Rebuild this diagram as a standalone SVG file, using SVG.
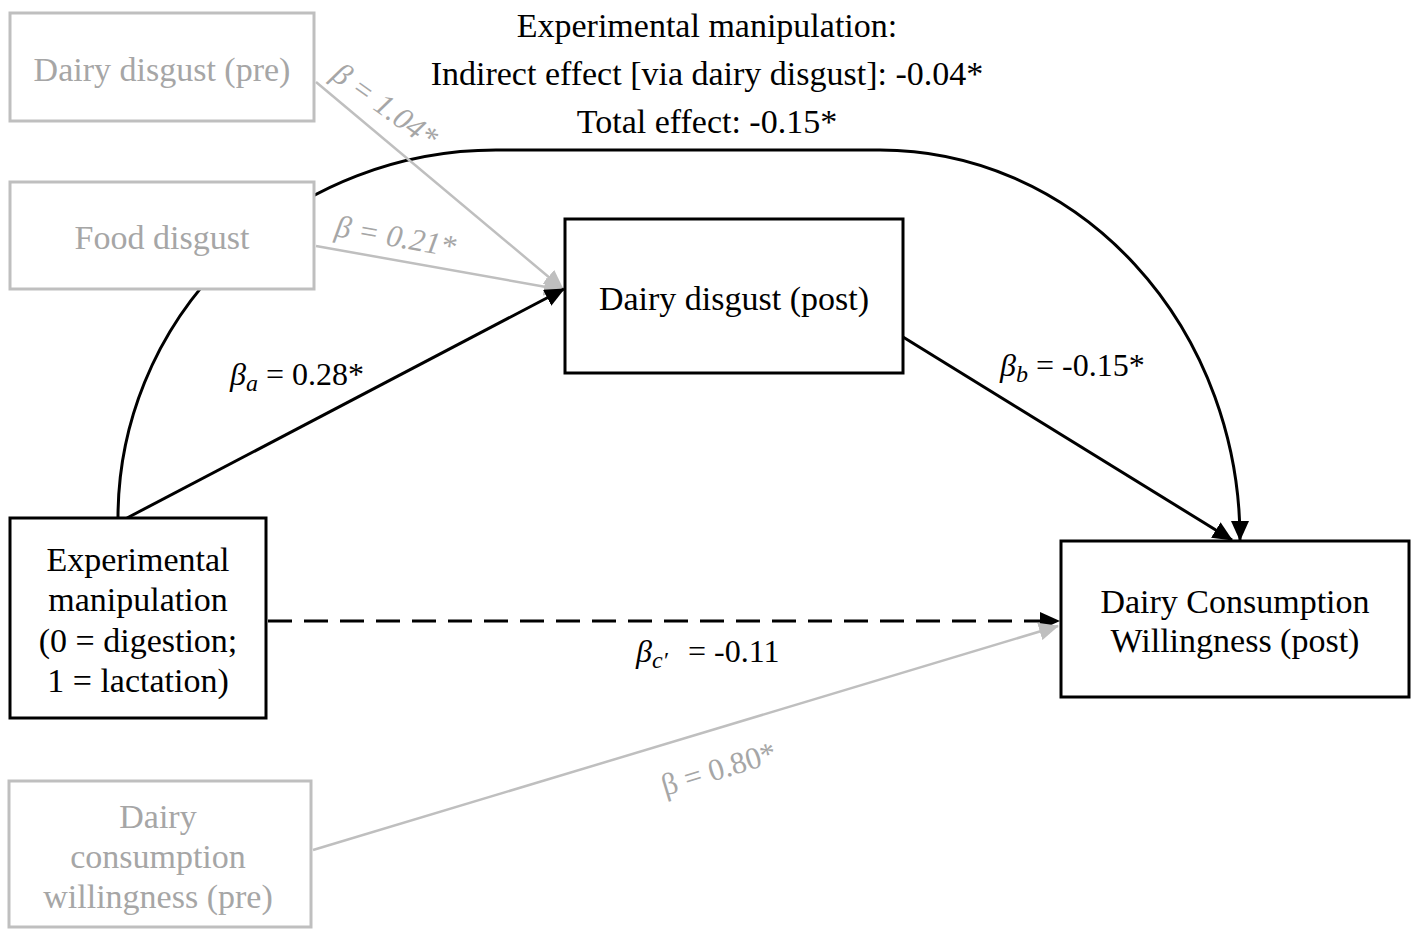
<svg xmlns="http://www.w3.org/2000/svg" width="1417" height="938" viewBox="0 0 1417 938">
<style>
text{font-family:"Liberation Serif","Times New Roman",serif;}
.t{font-size:34px;fill:#000;text-anchor:middle;}
.tg{font-size:34px;fill:#a6a6a6;text-anchor:middle;}
.box{fill:#fff;stroke:#000;stroke-width:3;}
.gbox{fill:#fff;stroke:#bfbfbf;stroke-width:3;}
.ln{fill:none;stroke:#000;stroke-width:3;}
.gln{fill:none;stroke:#bfbfbf;stroke-width:2.5;}
.lab{font-size:32px;fill:#000;}
.glab{font-size:31px;fill:#a6a6a6;}
</style>
<defs>
<marker id="ab" markerUnits="userSpaceOnUse" markerWidth="20" markerHeight="18" refX="19" refY="9" orient="auto">
<path d="M0,0 L20,9 L0,18 Z" fill="#000"/>
</marker>
<marker id="ag" markerUnits="userSpaceOnUse" markerWidth="20" markerHeight="18" refX="19" refY="9" orient="auto">
<path d="M0,0 L20,9 L0,18 Z" fill="#bfbfbf"/>
</marker>
</defs>
<rect width="1417" height="938" fill="#fff"/>

<g id="header">
<text class="t" x="707" y="37">Experimental manipulation:</text>
<text class="t" x="707" y="85">Indirect effect [via dairy disgust]: -0.04*</text>
<text class="t" x="707" y="133">Total effect: -0.15*</text>
</g>

<g id="connectors">
<path class="ln" d="M118,518 A378,368 0 0 1 496,150 L880,150 A360,390 0 0 1 1240,540" marker-end="url(#ab)"/>
<line class="gln" x1="316" y1="82" x2="563" y2="289" marker-end="url(#ag)"/>
<line class="gln" x1="316" y1="246" x2="563" y2="290" marker-end="url(#ag)"/>
<line class="ln" x1="127" y1="518" x2="564" y2="289" marker-end="url(#ab)"/>
<line class="ln" x1="903" y1="337" x2="1232" y2="540" marker-end="url(#ab)"/>
<line class="ln" x1="268" y1="621" x2="1059" y2="621" stroke-dasharray="24 12" marker-end="url(#ab)"/>
<line class="gln" x1="313" y1="850" x2="1058" y2="626" marker-end="url(#ag)"/>

<text class="glab" font-style="italic" transform="translate(330,78) rotate(36)">β = 1.04*</text>
<text class="glab" font-style="italic" transform="translate(334,236) rotate(10)">β = 0.21*</text>
<text class="lab" x="230" y="385"><tspan font-style="italic">β</tspan><tspan font-style="italic" font-size="24" dy="6">a</tspan><tspan dy="-6"> = 0.28*</tspan></text>
<text class="lab" x="1000" y="376"><tspan font-style="italic">β</tspan><tspan font-style="italic" font-size="24" dy="6">b</tspan><tspan dy="-6"> = -0.15*</tspan></text>
<text class="lab" x="636" y="662"><tspan font-style="italic">β</tspan><tspan font-style="italic" font-size="24" dy="6">c′</tspan><tspan dy="-6" x="688">= -0.11</tspan></text>
<text class="glab" font-size="34" transform="translate(665,796) rotate(-17)">β = 0.80*</text>
</g>

<g id="dairy-disgust-pre">
<rect class="gbox" x="10" y="13" width="304" height="108"/>
<text class="tg" x="162" y="81">Dairy disgust (pre)</text>
</g>
<g id="food-disgust">
<rect class="gbox" x="10" y="182" width="304" height="107"/>
<text class="tg" x="162" y="249">Food disgust</text>
</g>
<g id="dairy-disgust-post">
<rect class="box" x="565" y="219" width="338" height="154"/>
<text class="t" x="734" y="310">Dairy disgust (post)</text>
</g>
<g id="experimental-manipulation">
<rect class="box" x="10" y="518" width="256" height="200"/>
<text class="t" x="138" y="571">Experimental</text>
<text class="t" x="138" y="611">manipulation</text>
<text class="t" x="138" y="652">(0 = digestion;</text>
<text class="t" x="138" y="692">1 = lactation)</text>
</g>
<g id="dairy-consumption-willingness-post">
<rect class="box" x="1061" y="541" width="348" height="156"/>
<text class="t" x="1235" y="613">Dairy Consumption</text>
<text class="t" x="1235" y="652">Willingness (post)</text>
</g>
<g id="dairy-consumption-willingness-pre">
<rect class="gbox" x="9" y="781" width="302" height="146" stroke-width="4"/>
<text class="tg" x="158" y="828">Dairy</text>
<text class="tg" x="158" y="868">consumption</text>
<text class="tg" x="158" y="908">willingness (pre)</text>
</g>
</svg>
